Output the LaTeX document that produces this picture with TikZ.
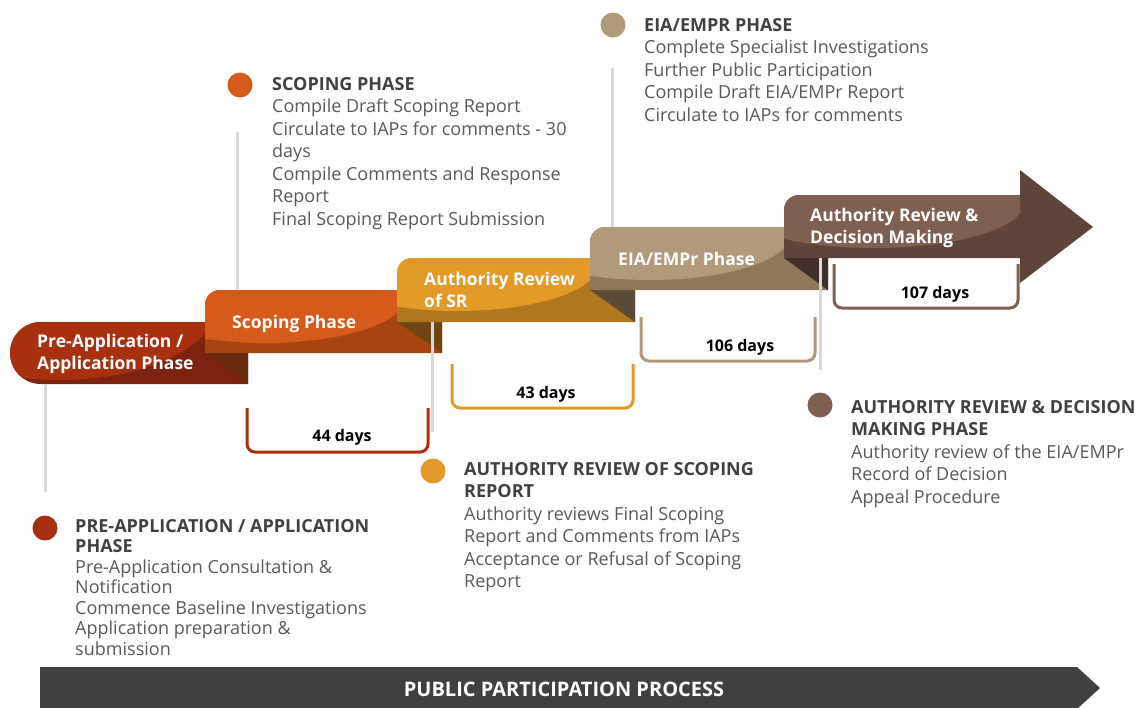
\documentclass[tikz,border=0pt]{standalone}
\usepackage{fontspec}
\setmainfont{Open Sans}
\usepackage{tikz}
\usetikzlibrary{positioning}

\definecolor{predark}{HTML}{7D2210}
\definecolor{prelight}{HTML}{A8300F}
\definecolor{prefold}{HTML}{6A2A0E}
\definecolor{scodark}{HTML}{A8440F}
\definecolor{scolight}{HTML}{D65A1A}
\definecolor{scofold}{HTML}{6E4613}
\definecolor{srdark}{HTML}{B0781E}
\definecolor{srlight}{HTML}{E39A28}
\definecolor{srfold}{HTML}{5C4A37}
\definecolor{eiadark}{HTML}{8E7858}
\definecolor{eialight}{HTML}{B09A7A}
\definecolor{eiafold}{HTML}{3F2F27}
\definecolor{admdark}{HTML}{5F4539}
\definecolor{admlight}{HTML}{7F5F4F}
\definecolor{stemgray}{HTML}{D9D9D9}
\definecolor{headgray}{HTML}{404040}
\definecolor{notegray}{HTML}{595959}
\definecolor{bargray}{HTML}{404040}

\tikzstyle{stem} = [stemgray, line width=3pt]
\tikzstyle{bracket} = [line width=3pt, rounded corners=8pt]
\tikzstyle{dot} = [circle, minimum size=25pt, inner sep=0pt]
\tikzstyle{bandtext} = [white, font=\bfseries\fontsize{17.5}{22}\selectfont, align=left, anchor=base west, inner sep=0pt]
\tikzstyle{days} = [black, font=\bfseries\fontsize{16}{18}\selectfont, anchor=base, inner sep=0pt]
\tikzstyle{notes} = [notegray, font=\fontsize{18}{22.5}\selectfont, align=left, anchor=base west, inner sep=0pt]
\newcommand{\headline}[1]{{\bfseries\color{headgray}#1}}

\begin{document}
\begin{tikzpicture}[x=1pt, y=-1pt]
	\useasboundingbox (0,0) rectangle (1142,707);

	% pre-application band
	\fill[predark] (248,384) -- (41,384) arc[start angle=270, end angle=90, radius=31pt] -- (248,322) -- cycle;
	\begin{scope}
		\clip (248,384) -- (41,384) arc[start angle=270, end angle=90, radius=31pt] -- (248,322) -- cycle;
		\fill[prelight] (60,300) ellipse[x radius=160pt, y radius=80pt];
	\end{scope}
	\fill[prefold] (205,353) -- (248,353) -- (248,384) -- cycle;

	% scoping band
	\fill[scodark] (205,353) -- (205,305) arc[start angle=180, end angle=90, radius=15pt] -- (442,290) -- (442,353) -- cycle;
	\begin{scope}
		\clip (205,353) -- (205,305) arc[start angle=180, end angle=90, radius=15pt] -- (442,290) -- (442,353) -- cycle;
		\fill[scolight] (265,298) ellipse[x radius=140pt, y radius=45pt];
	\end{scope}
	\fill[scofold] (397,322) -- (442,322) -- (442,353) -- cycle;

	% authority review of SR band
	\fill[srdark] (397,322) -- (397,273) arc[start angle=180, end angle=90, radius=15pt] -- (635,258) -- (635,322) -- cycle;
	\begin{scope}
		\clip (397,322) -- (397,273) arc[start angle=180, end angle=90, radius=15pt] -- (635,258) -- (635,322) -- cycle;
		\fill[srlight] (457,266) ellipse[x radius=140pt, y radius=45pt];
	\end{scope}
	\fill[srfold] (590,290) -- (635,290) -- (635,322) -- cycle;

	% EIA/EMPr band
	\fill[eiadark] (590,290) -- (590,242) arc[start angle=180, end angle=90, radius=15pt] -- (828,227) -- (828,290) -- cycle;
	\begin{scope}
		\clip (590,290) -- (590,242) arc[start angle=180, end angle=90, radius=15pt] -- (828,227) -- (828,290) -- cycle;
		\fill[eialight] (650,235) ellipse[x radius=140pt, y radius=45pt];
	\end{scope}
	\fill[eiafold] (784,258) -- (828,258) -- (828,290) -- cycle;

	% decision making arrow
	\fill[admdark] (784,258) -- (784,210) arc[start angle=180, end angle=90, radius=15pt] -- (1020,195) -- (1020,170) -- (1093,227) -- (1020,283) -- (1020,258) -- cycle;
	\begin{scope}
		\clip (784,258) -- (784,210) arc[start angle=180, end angle=90, radius=15pt] -- (1020,195) -- (1020,258) -- cycle;
		\fill[admlight] (874,203) ellipse[x radius=150pt, y radius=45pt];
	\end{scope}

	% band labels (anchored at the baseline of the last line)
	\node[bandtext] (prelabel) at (37,369) {Pre-Application /\\Application Phase};
	\node[bandtext] (scolabel) at (232,328) {Scoping Phase};
	\node[bandtext] (srlabel) at (424,307) {Authority Review\\of SR};
	\node[bandtext] (eialabel) at (618,265) {EIA/EMPr Phase};
	\node[bandtext] (admlabel) at (810,243) {Authority Review \&\\Decision Making};

	% stems
	\coordinate (prefoot) at (45,384);
	\coordinate (pretip) at (45,492);
	\coordinate (scofoot) at (237,290);
	\coordinate (scotip) at (237,132);
	\coordinate (srfoot) at (432,322);
	\coordinate (srtip) at (432,432);
	\coordinate (eiafoot) at (612,227);
	\coordinate (eiatip) at (612,68);
	\coordinate (admfoot) at (820,258);
	\coordinate (admtip) at (820,370);
	\draw[stem] (prefoot) -- (pretip);
	\draw[stem] (scofoot) -- (scotip);
	\draw[stem] (srfoot) -- (srtip);
	\draw[stem] (eiafoot) -- (eiatip);
	\draw[stem] (admfoot) -- (admtip);

	% durations
	\draw[bracket, prelight] (247,408) -- (247,452) -- (428,452) -- (428,408);
	\node[days] (d44) at (342,441) {44 days};
	\draw[bracket, srlight] (452,364) -- (452,408) -- (633,408) -- (633,364);
	\node[days] (d43) at (546,398) {43 days};
	\draw[bracket, eialight] (641,317) -- (641,361) -- (815,361) -- (815,317);
	\node[days] (d106) at (740,351) {106 days};
	\draw[bracket, admlight] (834,264) -- (834,308) -- (1018,308) -- (1018,264);
	\node[days] (d107) at (935,298) {107 days};

	% phase notes (anchored at the baseline of the last line)
	\node[dot, fill=prelight] (predot) at (45,528) {};
	\node[notes, font=\fontsize{18}{20.5}\selectfont] (prenotes) at (75,655) {\headline{PRE-APPLICATION / APPLICATION}\\\headline{PHASE}\\Pre-Application Consultation \&\\Notification\\Commence Baseline Investigations\\Application preparation \&\\submission};
	\node[dot, fill=scolight] (scodot) at (240,85) {};
	\node[notes] (sconotes) at (272,225) {\headline{SCOPING PHASE}\\Compile Draft Scoping Report\\Circulate to IAPs for comments - 30\\days\\Compile Comments and Response\\Report\\Final Scoping Report Submission};
	\node[dot, fill=srlight] (srdot) at (433,471) {};
	\node[notes] (srnotes) at (464,587.5) {\headline{AUTHORITY REVIEW OF SCOPING}\\\headline{REPORT}\\Authority reviews Final Scoping\\Report and Comments from IAPs\\Acceptance or Refusal of Scoping\\Report};
	\node[dot, fill=eialight] (eiadot) at (613,25) {};
	\node[notes] (eianotes) at (644,121) {\headline{EIA/EMPR PHASE}\\Complete Specialist Investigations\\Further Public Participation\\Compile Draft EIA/EMPr Report\\Circulate to IAPs for comments};
	\node[dot, fill=admlight] (admdot) at (820,405) {};
	\node[notes] (admnotes) at (851,503) {\headline{AUTHORITY REVIEW \& DECISION}\\\headline{MAKING PHASE}\\Authority review of the EIA/EMPr\\Record of Decision\\Appeal Procedure};

	% public participation bar
	\fill[bargray] (40,667) -- (1077,667) -- (1100,688) -- (1077,709) -- (40,709) -- cycle;
	\node[white, font=\bfseries\fontsize{20}{22}\selectfont, anchor=base, inner sep=0pt] (ppp) at (564,696) {PUBLIC PARTICIPATION PROCESS};
\end{tikzpicture}
\end{document}
